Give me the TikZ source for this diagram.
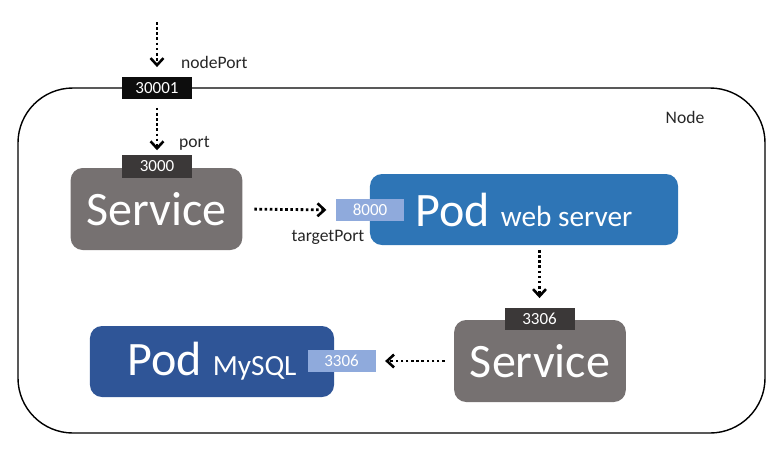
\documentclass[tikz,border=0pt]{standalone}
\usepackage{fontspec}
\setmainfont{Carlito}
\usetikzlibrary{positioning,calc}
\usetikzlibrary{arrows.meta}

\definecolor{svcgray}{HTML}{767171}
\definecolor{portgray}{HTML}{3B3838}
\definecolor{portblack}{HTML}{0D0D0D}
\definecolor{portblue}{HTML}{8FAADC}
\definecolor{webblue}{HTML}{2E75B6}
\definecolor{dbblue}{HTML}{2F5597}

\begin{document}
\begin{tikzpicture}[x=0.03cm, y=-0.03cm,
  svcbox/.style={fill=svcgray, rounded corners=0.36cm, minimum width=5.15cm, minimum height=2.46cm, inner sep=0pt, text=white, font=\fontsize{41}{41}\selectfont},
  podbox/.style={rounded corners=0.36cm, minimum height=2.13cm, inner sep=0pt, text=white, font=\fontsize{41}{41}\selectfont},
  portbox/.style={minimum width=2.1cm, minimum height=0.68cm, inner sep=0pt, font=\fontsize{14.5}{14.5}\selectfont},
  lbl/.style={text=black!85, font=\fontsize{15}{15}\selectfont},
  flow/.style={line width=2.4pt, dash pattern=on 2.2pt off 2.2pt, -{Straight Barb[length=6pt, width=11pt, line width=2.2pt]}}
]
  \useasboundingbox (0,0) rectangle (783,466);
  % \draw[step=50, gray!20!white, very thin] (0,0) grid (783,466);

  \node[draw, line width=1.2pt, rounded corners=1.65cm, minimum width=22.41cm, minimum height=10.35cm] at (391.5, 260.5) (cluster) {};
  \node[lbl] at (685, 117) (clusterlbl) {Node};

  \node[svcbox] at (156.5, 209) (svc1) {Service};
  \node[podbox, fill=webblue, minimum width=9.24cm] at (524, 209.5) (podweb) {Pod {\fontsize{25}{25}\selectfont web server}};
  \node[svcbox] at (540, 361) (svc2) {Service};
  \node[podbox, fill=dbblue, minimum width=7.32cm] at (212, 361.5) (poddb) {Pod {\fontsize{25}{25}\selectfont MySQL}};

  \node[portbox, fill=portblack, text=white] at (157, 88) (nodeport) {30001};
  \node[portbox, fill=portgray, text=white] at (157, 166.5) (svc1port) {3000};
  \node[portbox, fill=portblue, text=white, minimum width=2.04cm] at (370, 210) (webport) {8000};
  \node[portbox, fill=portgray, text=white] at (539.5, 319) (svc2port) {3306};
  \node[portbox, fill=portblue, text=white, minimum width=2.04cm] at (341.5, 361) (dbport) {3306};

  \coordinate (entry) at (157, 22);
  \node[lbl, anchor=west] at (177, 62) (nplbl) {nodePort};
  \node[lbl, anchor=west] at (175, 143) (plbl) {port};
  \node[lbl] at (328, 237) (tplbl) {targetPort};

  \draw[flow, shorten >=8pt] (entry) -- (nodeport.north);
  \draw[flow, shorten <=7pt, shorten >=4pt] (nodeport.south) -- (svc1port.north);
  \draw[flow, shorten <=10pt, shorten >=8pt] (svc1.east) -- (webport.west);
  \draw[flow, shorten <=4pt, shorten >=8pt] (podweb.south -| svc2port.north) -- (svc2port.north);
  \draw[flow, shorten <=8pt, shorten >=8pt] (svc2.west) -- (dbport.east);

\end{tikzpicture}
\end{document}
